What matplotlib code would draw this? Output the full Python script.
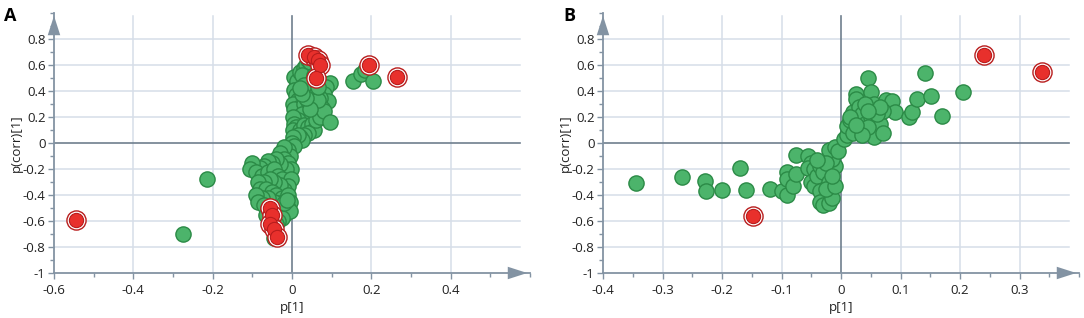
import numpy as np
import matplotlib.pyplot as plt
from matplotlib.ticker import MultipleLocator

# ---- data ----
# panel A
a_green_x = [0.005, 0.012, 0.02, 0.03, 0.035, 0.04, 0.045, 0.025, 0.045, 0.06, 0.075, 0.095, 0.085, 0.08,
             0.09, 0.07, 0.06, 0.05, 0.04, 0.03, 0.005, 0.01, 0.015, 0.003, 0.02, 0.005, 0.03, 0.04, 0.055,
             0.065, 0.075, 0.06, 0.05, 0.045, 0.035, 0.025, 0.015, 0.003, 0.005, 0.01, 0.003, 0.02, 0.03,
             0.04, 0.05, 0.055, 0.04, 0.03, 0.02, 0.01, 0.025, 0.015, 0.003, 0.0, 0.005, 0.06, 0.07, 0.08,
             0.065, 0.045, 0.035, 0.025, 0.02, 0.055, 0.065,
             -0.01, -0.005, -0.02, -0.03, -0.02, -0.01, -0.002, -0.015, -0.03, -0.04, -0.05, -0.06, -0.07,
             -0.08, -0.1, -0.105, -0.09, -0.075, -0.06, -0.045, -0.035, -0.025, -0.003, -0.01, -0.02, -0.03,
             -0.045, -0.055, -0.07, -0.085, -0.08, -0.065, -0.05, -0.04, -0.025, -0.01, -0.005, -0.015,
             -0.03, -0.045, -0.06, -0.075, -0.09, -0.085, -0.07, -0.06, -0.045, -0.03, -0.02, -0.01, -0.005,
             -0.025, -0.035, -0.04, -0.05, -0.02, -0.012, -0.045, -0.055, -0.065,
             -0.275, -0.215, 0.155, 0.175, 0.185, 0.205, 0.095]
a_green_y = [0.51, 0.48, 0.55, 0.58, 0.6, 0.64, 0.62, 0.52, 0.46, 0.47, 0.46, 0.46, 0.43, 0.38,
             0.32, 0.35, 0.4, 0.36, 0.42, 0.45, 0.41, 0.37, 0.33, 0.3, 0.28, 0.26, 0.3, 0.32, 0.3,
             0.28, 0.27, 0.24, 0.22, 0.18, 0.2, 0.22, 0.18, 0.2, 0.15, 0.12, 0.1, 0.1, 0.14,
             0.12, 0.15, 0.1, 0.08, 0.06, 0.05, 0.03, 0.02, 0.06, 0.05, 0.0, -0.02, 0.18, 0.2, 0.25,
             0.33, 0.26, 0.35, 0.38, 0.42, 0.52, 0.43,
             -0.05, -0.1, -0.03, -0.08, -0.12, -0.15, -0.2, -0.2, -0.16, -0.12, -0.15, -0.14, -0.18,
             -0.19, -0.15, -0.2, -0.22, -0.25, -0.22, -0.2, -0.25, -0.28, -0.28, -0.33, -0.36, -0.32,
             -0.3, -0.28, -0.3, -0.3, -0.35, -0.35, -0.38, -0.4, -0.42, -0.4, -0.45, -0.48,
             -0.46, -0.45, -0.42, -0.42, -0.4, -0.45, -0.48, -0.5, -0.52, -0.52, -0.55, -0.5, -0.52,
             -0.58, -0.6, -0.62, -0.6, -0.46, -0.44, -0.73, -0.58, -0.55,
             -0.70, -0.28, 0.48, 0.53, 0.56, 0.48, 0.16]
a_red_x = [-0.545, 0.195, 0.265, 0.04, 0.055, 0.065, 0.07, 0.06, -0.055, -0.05, -0.055, -0.045, -0.038]
a_red_y = [-0.59, 0.60, 0.51, 0.68, 0.66, 0.64, 0.60, 0.50, -0.50, -0.55, -0.62, -0.66, -0.72]

# panel B
b_green_x = [-0.345, -0.267, -0.228, -0.227, -0.2, -0.17, -0.16, -0.12,
             -0.1, -0.09, -0.09, -0.09, -0.08, -0.075, -0.075,
             -0.055, -0.05, -0.055, -0.045, -0.05, -0.045, -0.04, -0.035, -0.03, -0.035, -0.035, -0.03,
             -0.02, -0.015, -0.02, -0.025, -0.01, -0.01, -0.015, -0.02, -0.01, -0.005, -0.025, -0.04, -0.015,
             0.005, 0.01, 0.01, 0.015, 0.02, 0.025, 0.025, 0.03, 0.035, 0.04, 0.03, 0.02, 0.045, 0.05,
             0.055, 0.05, 0.06, 0.055, 0.065, 0.07, 0.075, 0.085, 0.09, 0.07, 0.045, 0.035, 0.015, 0.04,
             0.06, 0.065, 0.025, 0.045,
             0.115, 0.12, 0.127, 0.142, 0.152, 0.17, 0.205]
b_green_y = [-0.31, -0.26, -0.29, -0.37, -0.36, -0.19, -0.36, -0.35,
             -0.37, -0.4, -0.22, -0.28, -0.33, -0.24, -0.09,
             -0.1, -0.15, -0.19, -0.2, -0.3, -0.33, -0.25, -0.18, -0.22, -0.37, -0.45, -0.48,
             -0.46, -0.42, -0.3, -0.35, -0.33, -0.18, -0.12, -0.05, -0.03, -0.06, -0.15, -0.13, -0.25,
             0.03, 0.06, 0.13, 0.18, 0.24, 0.38, 0.34, 0.28, 0.22, 0.15, 0.1, 0.08, 0.5, 0.39,
             0.3, 0.2, 0.1, 0.05, 0.15, 0.08, 0.33, 0.32, 0.24, 0.25, 0.12, 0.06, 0.2, 0.3,
             0.22, 0.28, 0.14, 0.25,
             0.2, 0.24, 0.34, 0.54, 0.36, 0.21, 0.39]
b_red_x = [-0.148, 0.24, 0.338]
b_red_y = [-0.56, 0.68, 0.55]

yticks = [-1, -0.8, -0.6, -0.4, -0.2, 0, 0.2, 0.4, 0.6, 0.8]

panels = [
    dict(label='A', gx=a_green_x, gy=a_green_y, rx=a_red_x, ry=a_red_y,
         xlim=(-0.6, 0.6), xminor=0.1, xticks=[-0.6, -0.4, -0.2, 0, 0.2, 0.4]),
    dict(label='B', gx=b_green_x, gy=b_green_y, rx=b_red_x, ry=b_red_y,
         xlim=(-0.4, 0.4), xminor=0.05, xticks=[-0.4, -0.3, -0.2, -0.1, 0, 0.1, 0.2, 0.3]),
]

plt.rcParams['font.family'] = ['Open Sans', 'DejaVu Sans']

fig = plt.figure(figsize=(10.84, 3.18), dpi=100)
# axes boxes in pixels: left, bottom(from top), right, top(from top)
boxes = [(54, 273, 530, 13), (603, 273, 1079, 13)]

grid_c = '#d6dee8'
zero_c = '#6f7f8e'
axis_c = '#8393a3'
text_c = '#222222'
green_f = '#4cb46b'
green_e = '#2b8a46'
red_f = '#e8302c'
red_e = '#b81d1d'

for (l, b, r, t), p in zip(boxes, panels):
    ax = fig.add_axes([l / 1084, (318 - b) / 318, (r - l) / 1084, (b - t) / 318])
    x0, x1 = p['xlim']
    ax.set_xlim(x0, x1)
    ax.set_ylim(-1, 1.0)

    # grid
    for xv in p['xticks']:
        if xv != x0 and xv != 0:
            ax.plot([xv, xv], [-1, 0.98], color=grid_c, lw=1.1, zorder=0)
    for yv in yticks:
        if yv not in (-1, 0):
            ax.plot([x0, x1 - 0.02 * (x1 - x0)], [yv, yv], color=grid_c, lw=1.1, zorder=0)
    ax.plot([0, 0], [-1, 0.98], color=zero_c, lw=1.2, zorder=1)
    ax.plot([x0, x1 - 0.02 * (x1 - x0)], [0, 0], color=zero_c, lw=1.2, zorder=1)

    # points
    ax.scatter(p['gx'], p['gy'], s=120, c=green_f, edgecolors=green_e, linewidths=1.0, zorder=3)
    ax.scatter(p['rx'], p['ry'], s=190, c='white', edgecolors=red_e, linewidths=1.0, zorder=4)
    ax.scatter(p['rx'], p['ry'], s=105, c=red_f, edgecolors=red_e, linewidths=0.8, zorder=5)

    # axes with arrows
    for side in ['top', 'right']:
        ax.spines[side].set_visible(False)
    for side in ['left', 'bottom']:
        ax.spines[side].set_color(axis_c)
        ax.spines[side].set_linewidth(1.3)
    arrow = dict(arrowstyle='-|>,head_length=1.4,head_width=0.45', color=axis_c, lw=0)
    ax.annotate('', xy=(1.0, 0), xytext=(0.95, 0), xycoords='axes fraction',
                arrowprops=arrow, annotation_clip=False)
    ax.annotate('', xy=(0, 1.0), xytext=(0, 0.92), xycoords='axes fraction',
                arrowprops=arrow, annotation_clip=False)

    ax.set_xticks(p['xticks'])
    ax.set_xticklabels(['0' if v == 0 else ('%g' % v) for v in p['xticks']])
    ax.xaxis.set_minor_locator(MultipleLocator(p['xminor']))
    ax.set_yticks(yticks)
    ax.set_yticklabels(['0' if v == 0 else ('%g' % v) for v in yticks])
    ax.yaxis.set_minor_locator(MultipleLocator(0.1))
    ax.tick_params(which='major', length=4, width=1, color=axis_c, labelsize=9.5,
                   labelcolor=text_c)
    ax.tick_params(axis='x', which='major', pad=4)
    ax.tick_params(axis='y', which='major', pad=2)
    ax.tick_params(which='minor', length=3, width=1, color=axis_c)
    ax.set_xlabel('p[1]', fontsize=9.5, color=text_c, labelpad=3)
    ax.set_ylabel('p(corr)[1]', fontsize=9.5, color=text_c, labelpad=0)
    ax.patch.set_alpha(0)

    fig.text((l - 44) / 1084 if p['label'] == 'A' else (l - 34) / 1084, (318 - 16) / 318,
             p['label'], fontsize=13, fontweight='bold', ha='center', va='center')

fig.savefig('out.png', dpi=100)
